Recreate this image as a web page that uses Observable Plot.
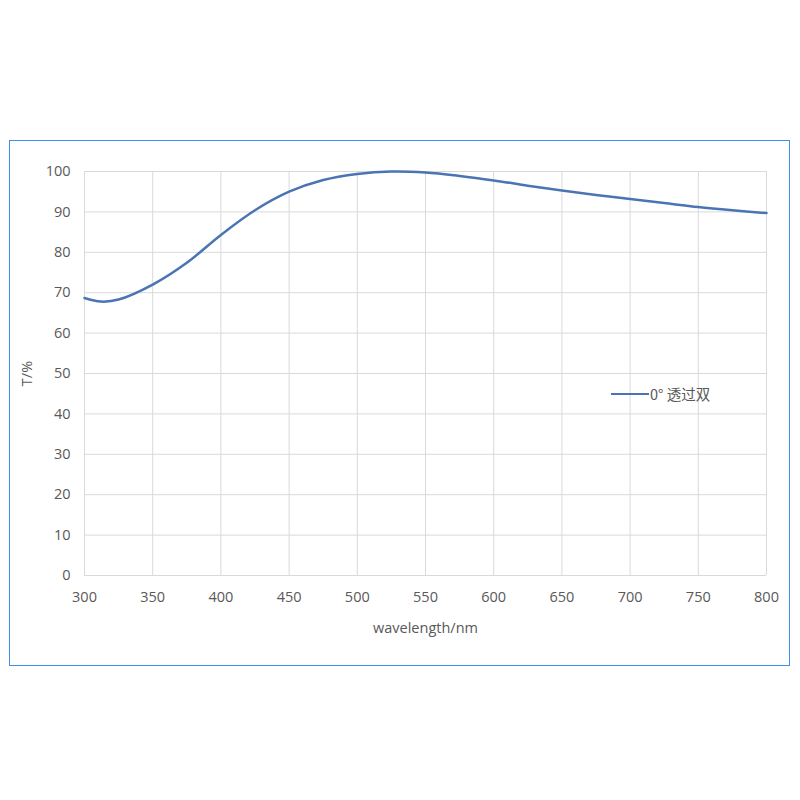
<!DOCTYPE html>
<html>
<head>
<meta charset="utf-8">
<script src="https://cdn.jsdelivr.net/npm/d3@7"></script>
<script src="https://cdn.jsdelivr.net/npm/@observablehq/plot@0.6"></script>
<style>
  html, body { margin: 0; padding: 0; background: #fff; }
  #wrap { position: relative; width: 800px; height: 800px; }
  #frame { position: absolute; left: 9px; top: 140px; width: 779px; height: 524px; border: 1.5px solid #3d8ef0; box-sizing: content-box; }
  #chart { position: absolute; left: 0; top: 0; }
  #chart svg text { fill: #595959; }
  #legend { position: absolute; left: 611px; top: 383px; display: flex; align-items: center; font-family: "Noto Sans CJK SC", "Open Sans", sans-serif; font-size: 14.5px; color: #595959; }
  #legend .sw { width: 38px; height: 0; border-top: 2.5px solid #4a74b4; margin-right: 1px; }
</style>
</head>
<body>
<div id="wrap">
  <div id="frame"></div>
  <div id="chart"></div>
  <div id="legend"><span class="sw"></span><span id="legendText"></span></div>
</div>
<script>
const wavelengths = [300, 312, 325, 350, 375, 400, 425, 450, 475, 500, 525, 550, 575, 600, 625, 650, 675, 700, 725, 750, 775, 800];
const transmission = [68.7, 67.8, 68.3, 72.0, 77.4, 84.3, 90.4, 95.0, 97.9, 99.4, 100.0, 99.75, 98.9, 97.8, 96.5, 95.3, 94.2, 93.2, 92.2, 91.2, 90.4, 89.7];
const xTicks = [300, 350, 400, 450, 500, 550, 600, 650, 700, 750, 800];
const yTicks = [0, 10, 20, 30, 40, 50, 60, 70, 80, 90, 100];
const seriesName = "0°  透过双";
const xLabel = "wavelength/nm";
const yLabel = "T/%";

const data = wavelengths.map((w, i) => ({w, t: transmission[i]}));

const chart = Plot.plot({
  width: 800,
  height: 800,
  marginLeft: 84,
  marginRight: 34,
  marginTop: 171,
  marginBottom: 225,
  style: {fontFamily: "'Open Sans', sans-serif", fontSize: "14.5px", color: "#595959", background: "transparent"},
  x: {domain: [300, 800], ticks: xTicks, tickSize: 0, tickPadding: 16, label: xLabel, labelAnchor: "center", labelArrow: "none", labelOffset: 57},
  y: {domain: [0, 100], ticks: yTicks, tickSize: 0, tickPadding: 14, label: yLabel, labelAnchor: "center", labelArrow: "none", labelOffset: 63},
  marks: [
    Plot.gridX(xTicks, {stroke: "#d9d9d9", strokeOpacity: 1, strokeWidth: 1}),
    Plot.gridY(yTicks, {stroke: "#d9d9d9", strokeOpacity: 1, strokeWidth: 1}),
    Plot.line(data, {x: "w", y: "t", stroke: "#4a74b4", strokeWidth: 2.5, curve: "catmull-rom"})
  ]
});
document.getElementById("chart").appendChild(chart);
document.getElementById("legendText").textContent = seriesName;
</script>
</body>
</html>
